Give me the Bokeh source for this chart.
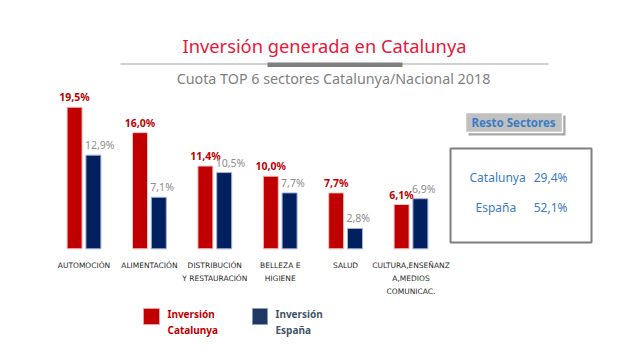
from bokeh.plotting import figure
from bokeh.models import Range1d, ColumnDataSource
from bokeh.core.properties import value
from bokeh.embed import file_html
from bokeh.resources import INLINE

# ---------------- data ----------------
categories = ["AUTOMOCIÓN", "ALIMENTACIÓN", "DISTRIBUCIÓN\nY RESTAURACIÓN",
              "BELLEZA E\nHIGIENE", "SALUD", "CULTURA,ENSEÑANZ\nA,MEDIOS\nCOMUNICAC."]
catalunya = [19.5, 16.0, 11.4, 10.0, 7.7, 6.1]
espana = [12.9, 7.1, 10.5, 7.7, 2.8, 6.9]
cat_labels = ["19,5%", "16,0%", "11,4%", "10,0%", "7,7%", "6,1%"]
esp_labels = ["12,9%", "7,1%", "10,5%", "7,7%", "2,8%", "6,9%"]
series_names = ["Inversión\nCatalunya", "Inversión\nEspaña"]
title = "Inversión generada en Catalunya"
subtitle = "Cuota TOP 6 sectores Catalunya/Nacional 2018"
resto_title = "Resto Sectores"
resto_names = ["Catalunya", "España"]
resto_values = ["29,4%", "52,1%"]

# ---------------- geometry (page pixels -> data units) ----------------
W, H = 610, 348
GX0 = 83.5      # canvas x of first group centre
GSTEP = 65.4    # px per category
BASE = 248.3    # canvas y of zero
PPU = 7.26      # px per percent

def PX(page_x):
    return (page_x - GX0) / GSTEP

def PY(page_y):
    return (BASE - page_y) / PPU

RED = "#c00000"
NAVY = "#002060"
FONT = "Noto Sans"

p = figure(width=W, height=H, output_backend="svg", toolbar_location=None,
           x_range=Range1d(-GX0 / GSTEP, (W - GX0) / GSTEP),
           y_range=Range1d((BASE - H) / PPU, BASE / PPU),
           x_axis_type=None, y_axis_type=None, min_border=0)
p.outline_line_color = None
p.xgrid.visible = False
p.ygrid.visible = False
p.background_fill_color = "white"

idx = list(range(len(categories)))
bw = 15 / GSTEP
off = 9.4 / GSTEP
src = ColumnDataSource(dict(
    xr=[i - off for i in idx], xn=[i + off for i in idx], xc=idx,
    cat=catalunya, esp=espana, cl=cat_labels, el=esp_labels,
    xnl=[i + off - bw / 2 for i in idx], names=categories,
))

p.vbar(x="xr", top="cat", bottom=0, width=bw, source=src,
       fill_color=RED, line_color="#f4c4c4", line_width=1)
p.vbar(x="xn", top="esp", bottom=0, width=bw, source=src,
       fill_color=NAVY, line_color="#a9b3cf", line_width=1)

p.text(x="xr", y="cat", text="cl", source=src, text_font=value(FONT),
       text_font_style="bold", text_font_size="10.5px", text_color=RED,
       text_align="center", text_baseline="bottom", y_offset=-3)
p.text(x="xnl", y="esp", text="el", source=src, text_font=value(FONT),
       text_font_size="10.5px", text_color="#8c8c8c",
       text_align="left", text_baseline="bottom", y_offset=-3, x_offset=-1)

# category labels
p.text(x="xc", y=PY(260), text="names", source=src, text_font=value("DejaVu Sans"),
       text_font_size="7.5px", text_color="#2a2a2a", text_align="center",
       text_baseline="top", text_line_height=1.45)

# titles
p.text(x=[PX(324)], y=[PY(45)], text=[title], text_font=value(FONT),
       text_font_size="18.3px", text_color="#e8173b", text_align="center",
       text_baseline="middle")
p.segment(x0=[PX(120)], y0=[PY(63.5)], x1=[PX(548)], y1=[PY(63.5)],
          line_color="#d0d0d0", line_width=2)
p.quad(left=[PX(267)], right=[PX(402)], top=[PY(62)], bottom=[PY(66.5)],
       fill_color="#7f7f7f", line_color=None)
p.text(x=[PX(333)], y=[PY(78)], text=[subtitle], text_font=value(FONT),
       text_font_size="14.3px", text_color="#7f7f7f", text_align="center",
       text_baseline="middle")

# Resto Sectores tag
p.quad(left=[PX(468)], right=[PX(565)], top=[PY(115)], bottom=[PY(135)],
       fill_color="#a6a6a6", line_color=None)
p.quad(left=[PX(465)], right=[PX(562)], top=[PY(112)], bottom=[PY(132)],
       fill_color="#c0c0c0", line_color="white", line_width=1.5)
p.text(x=[PX(513)], y=[PY(122)], text=[resto_title], text_font=value(FONT),
       text_font_style="bold", text_font_size="11.5px", text_color="#3b7bc4",
       text_align="center", text_baseline="middle")

# Resto box
p.quad(left=[PX(450)], right=[PX(591)], top=[PY(148)], bottom=[PY(242)],
       fill_color="white", line_color="#7f7f7f", line_width=2)
p.text(x=[PX(469), PX(475)], y=[PY(177), PY(207)], text=resto_names,
       text_font=value(FONT), text_font_size="12px", text_color="#3b7bc4",
       text_align="left", text_baseline="middle")
p.text(x=[PX(567), PX(567)], y=[PY(177), PY(207)], text=resto_values,
       text_font=value(FONT), text_font_size="12px", text_color="#3b7bc4",
       text_align="right", text_baseline="middle")

# legend
p.quad(left=[PX(143), PX(252)], right=[PX(159), PX(267)],
       top=[PY(308), PY(308)], bottom=[PY(324), PY(324)],
       fill_color=[RED, "#1f3864"], line_color=["#e8a0a0", "#8a96b8"], line_width=1)
p.text(x=[PX(167), PX(275)], y=[PY(306), PY(306)], text=series_names,
       text_font=value(FONT), text_font_style="bold", text_font_size="10px",
       text_color=[RED, "#44546a"], text_align="left", text_baseline="top",
       text_line_height=1.2)

open("out.html", "w").write(file_html(p, INLINE))
